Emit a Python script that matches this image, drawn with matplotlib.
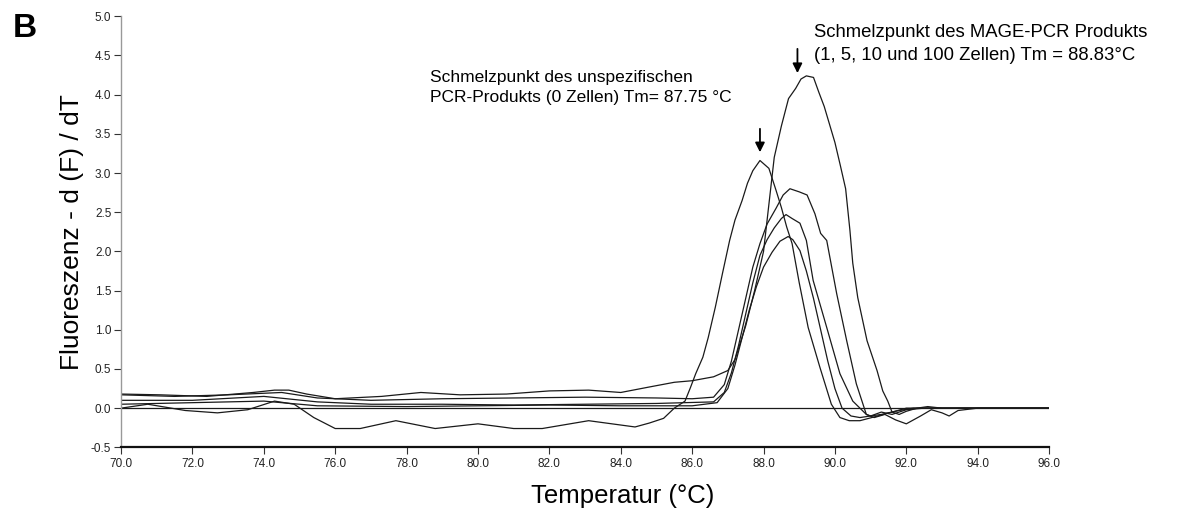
import matplotlib
matplotlib.use("Agg")
import matplotlib.pyplot as plt
import numpy as np

plt.rcParams['font.family'] = ['Liberation Sans', 'DejaVu Sans']

# tick values
x_ticks = [70, 72, 74, 76, 78, 80, 82, 84, 86, 88, 90, 92, 94, 96]
y_ticks = [-0.5, 0.0, 0.5, 1.0, 1.5, 2.0, 2.5, 3.0, 3.5, 4.0, 4.5, 5.0]

# unspecific product (0 cells), peak ~87.9
t_unspec = [70.0, 70.75, 71.8, 72.7, 73.55, 74.3, 74.85, 75.4, 76.0, 76.7, 77.7,
            78.8, 80.0, 81.0, 81.8, 83.1, 84.4, 84.8, 85.2, 85.5, 85.8, 85.95,
            86.1, 86.3, 86.45, 86.65, 86.85, 87.05, 87.2, 87.4, 87.55, 87.7, 87.9,
            88.15, 88.35, 88.5, 88.65, 88.8, 89.0, 89.25, 89.58, 89.9, 90.14,
            90.4, 90.7, 90.95, 91.2, 91.5, 91.8, 92.2, 96.0]
v_unspec = [0.0, 0.05, -0.03, -0.06, -0.02, 0.09, 0.05, -0.12, -0.26, -0.26, -0.16,
            -0.26, -0.2, -0.26, -0.26, -0.16, -0.24, -0.19, -0.13, 0.0, 0.09, 0.26,
            0.44, 0.65, 0.9, 1.29, 1.72, 2.14, 2.4, 2.65, 2.87, 3.03, 3.16,
            3.06, 2.78, 2.56, 2.31, 2.1, 1.6, 1.03, 0.52, 0.05, -0.12,
            -0.16, -0.16, -0.13, -0.1, -0.06, -0.03, 0.0, 0.0]

# MAGE product, highest peak
t_mage1 = [70.0, 71.1, 72.4, 73.7, 74.3, 74.7, 75.2, 76.0, 77.3, 78.4, 79.5, 80.8,
           82.0, 83.1, 84.0, 84.8, 85.5, 86.0, 86.6, 87.0, 87.2, 87.5, 87.75,
           88.0, 88.15, 88.3, 88.5, 88.7, 88.9, 89.05, 89.2, 89.4, 89.55, 89.7,
           89.85, 90.0, 90.15, 90.3, 90.42, 90.5, 90.64, 90.9, 91.18, 91.34,
           91.48, 91.6, 91.8, 92.0, 92.3, 92.6, 93.0, 96.0]
v_mage1 = [0.18, 0.17, 0.15, 0.2, 0.23, 0.23, 0.18, 0.12, 0.15, 0.2, 0.17, 0.18,
           0.22, 0.23, 0.2, 0.27, 0.33, 0.35, 0.4, 0.48, 0.62, 1.05, 1.5,
           2.0, 2.6, 3.2, 3.6, 3.95, 4.08, 4.2, 4.24, 4.22, 4.03, 3.85,
           3.62, 3.39, 3.1, 2.8, 2.27, 1.85, 1.41, 0.86, 0.48, 0.22,
           0.09, -0.05, -0.08, -0.04, 0.0, 0.02, 0.0, 0.0]

# MAGE product, second curve
t_mage2 = [70.0, 71.5, 73.0, 74.5, 75.5, 77.0, 79.0, 81.0, 83.0, 85.0, 86.0, 86.6,
           86.9, 87.1, 87.3, 87.5, 87.7, 87.9, 88.1, 88.35, 88.55, 88.74, 89.0,
           89.22, 89.44, 89.6, 89.77, 90.05, 90.33, 90.6, 90.88, 91.1, 91.4,
           91.7, 92.0, 92.4, 92.7, 93.0, 93.2, 93.45, 94.0, 96.0]
v_mage2 = [0.17, 0.15, 0.17, 0.2, 0.13, 0.1, 0.12, 0.13, 0.14, 0.13, 0.12, 0.14,
           0.3, 0.6, 1.0, 1.4, 1.8, 2.1, 2.35, 2.55, 2.72, 2.8, 2.76,
           2.72, 2.48, 2.23, 2.14, 1.46, 0.86, 0.31, -0.08, -0.12, -0.08,
           -0.15, -0.2, -0.1, -0.02, -0.06, -0.1, -0.03, 0.0, 0.0]

# MAGE product, third curve
t_mage3 = [70.0, 72.0, 74.0, 75.5, 77.0, 79.0, 81.0, 83.0, 85.0, 86.6, 86.9,
           87.1, 87.3, 87.5, 87.7, 87.9, 88.1, 88.3, 88.5, 88.63, 88.8, 89.02,
           89.2, 89.39, 89.77, 90.14, 90.5, 90.88, 91.0, 91.3, 91.6, 92.0, 96.0]
v_mage3 = [0.1, 0.1, 0.15, 0.08, 0.05, 0.05, 0.04, 0.05, 0.06, 0.08, 0.2,
           0.45, 0.8, 1.2, 1.6, 1.95, 2.15, 2.3, 2.42, 2.47, 2.42, 2.36,
           2.14, 1.63, 1.03, 0.44, 0.09, -0.08, -0.1, -0.08, -0.05, 0.0, 0.0]

# MAGE product, fourth curve
t_mage4 = [70.0, 72.0, 74.0, 75.5, 78.0, 80.0, 82.0, 84.0, 86.0, 86.7, 87.0,
           87.2, 87.4, 87.6, 87.8, 88.0, 88.24, 88.46, 88.69, 88.82, 89.02,
           89.2, 89.4, 89.6, 89.8, 90.0, 90.2, 90.45, 90.7, 91.0, 91.3, 91.6,
           92.0, 92.5, 96.0]
v_mage4 = [0.05, 0.07, 0.09, 0.03, 0.02, 0.03, 0.04, 0.03, 0.03, 0.07, 0.25,
           0.55, 0.9, 1.25, 1.55, 1.8, 1.99, 2.13, 2.19, 2.15, 2.01,
           1.75, 1.4, 1.0, 0.6, 0.25, 0.0, -0.1, -0.12, -0.1, -0.05, -0.08,
           -0.02, 0.0, 0.0]

# flat reference line
t_flat = [70.0, 96.0]
v_flat = [0.0, 0.0]

fig = plt.figure(figsize=(11.81, 5.13), dpi=100)
ax = fig.add_axes([0.1025, 0.128, 0.7858, 0.8402])

curves = [(t_flat, v_flat), (t_mage4, v_mage4), (t_mage3, v_mage3),
          (t_mage2, v_mage2), (t_unspec, v_unspec), (t_mage1, v_mage1)]
for t, v in curves:
    ax.plot(t, v, color='#1a1a1a', lw=0.9)

ax.set_xlim(70, 96)
ax.set_ylim(-0.5, 5.0)
ax.set_xticks(x_ticks)
ax.set_xticklabels([f"{x:.1f}" for x in x_ticks])
ax.set_yticks(y_ticks)
ax.set_yticklabels([f"{y:.1f}" for y in y_ticks])
ax.tick_params(axis='both', direction='out', length=5, width=0.8,
               labelsize=8.5, color='#333333', labelcolor='#222222')
ax.tick_params(axis='y', pad=2)
ax.tick_params(axis='x', pad=3)

for side in ['top', 'right']:
    ax.spines[side].set_visible(False)
ax.spines['left'].set_color('#999999')
ax.spines['left'].set_linewidth(1.0)
ax.spines['bottom'].set_color('#111111')
ax.spines['bottom'].set_linewidth(1.6)

ax.set_xlabel("Temperatur (°C)", fontsize=18.5)
ax.xaxis.set_label_coords(0.541, -0.085)
ax.set_ylabel("Fluoreszenz - d (F) / dT", fontsize=19)
ax.yaxis.set_label_coords(-0.040, 0.50)

fig.text(0.011, 0.975, "B", fontsize=24, fontweight='bold', va='top', ha='left')

ax.text(78.66, 4.09, "Schmelzpunkt des unspezifischen\nPCR-Produkts (0 Zellen) Tm= 87.75 °C",
        fontsize=12.5, ha='left', va='center', linespacing=1.45)
ax.text(89.4, 4.65, "Schmelzpunkt des MAGE-PCR Produkts\n(1, 5, 10 und 100 Zellen) Tm = 88.83°C",
        fontsize=13.3, ha='left', va='center', linespacing=1.45, clip_on=False)

arrow_style = dict(arrowstyle='-|>', color='black', lw=1.3, mutation_scale=14)
ax.annotate("", xy=(87.9, 3.23), xytext=(87.9, 3.6), arrowprops=arrow_style)
ax.annotate("", xy=(88.95, 4.24), xytext=(88.95, 4.62), arrowprops=arrow_style)

fig.savefig("out.png", dpi=100)
